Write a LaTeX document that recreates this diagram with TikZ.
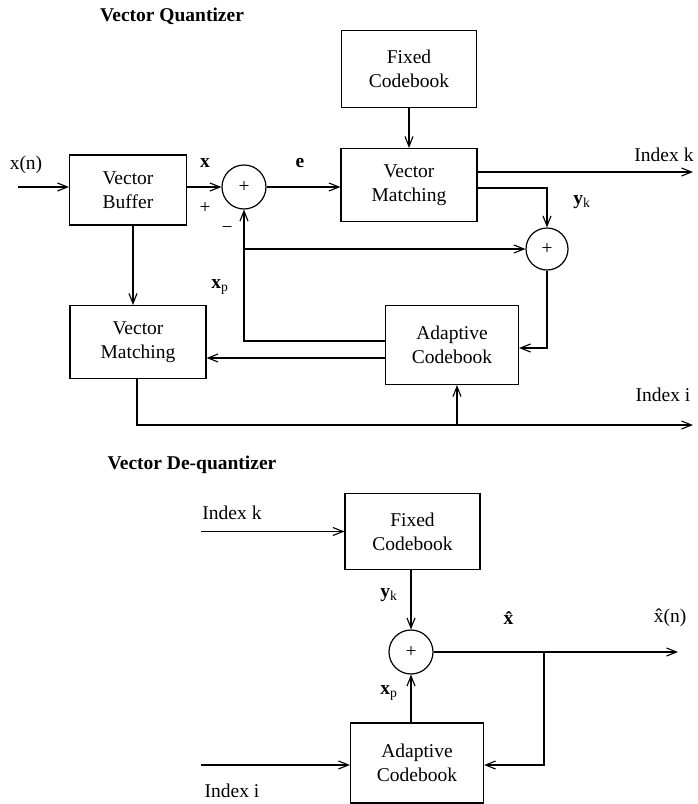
\documentclass[tikz,border=0pt]{standalone}
\usepackage{fontspec}
\setmainfont{Liberation Serif}
\usetikzlibrary{arrows.meta}
\begin{document}
\begin{tikzpicture}[x=1pt,y=-1pt,
  every node/.style={font=\fontsize{19.5}{24}\selectfont},
  box/.style={draw,line width=1.2pt,align=center,inner sep=0pt},
  sumnode/.style={draw,circle,line width=1.2pt,minimum size=44pt,inner sep=0pt},
  lbl/.style={inner sep=0pt},
  arr/.style={line width=1.2pt,-{Straight Barb[length=10pt,width=8pt,line width=1.1pt]}},
  ln/.style={line width=1.2pt}]
\useasboundingbox (0,0) rectangle (698,804);
% ---------- Vector Quantizer ----------
\node[lbl] (t1) at (172,16) {\textbf{Vector Quantizer}};
\node[box,minimum width=135pt,minimum height=77pt] (fcb1) at (409,69) {Fixed\\Codebook};
\node[box,minimum width=136pt,minimum height=73pt] (vm1) at (409,185) {Vector\\Matching};
\node[box,minimum width=117pt,minimum height=70pt] (vb) at (128,190) {Vector\\Buffer};
\node[sumnode] (c1) at (244,187) {+};
\node[sumnode,minimum size=42pt] (c2) at (547,249) {+};
\node[box,minimum width=133pt,minimum height=79pt] (acb1) at (452,345) {Adaptive\\Codebook};
\node[box,minimum width=136pt,minimum height=73pt] (vm2) at (138,342) {Vector\\Matching};

\node[lbl] (lxn) at (26,165) {x(n)};
\node[lbl] (lx) at (205,163) {\textbf{x}};
\node[lbl] (lplus) at (205,208) {+};
\node[lbl] (lminus) at (227,230) {−};
\node[lbl] (le) at (300,163) {\textbf{e}};
\node[lbl] (lik) at (664,155) {Index k};
\node[lbl] (lyk) at (582,202) {\textbf{y}\textsubscript{k}};
\node[lbl] (lxp) at (220,287) {\textbf{x}\textsubscript{p}};
\node[lbl] (lii) at (663,395) {Index i};

\coordinate (xin) at (18,187);
\coordinate (ik) at (693,172);
\coordinate (yk) at (547,188);
\coordinate (fb) at (244,341);
\coordinate (r1) at (547,348);
\coordinate (al) at (385,358);
\coordinate (dv) at (133,0);
\coordinate (iib) at (137,425);
\coordinate (ii) at (693,425);
\coordinate (ia) at (457,425);

\draw[arr] (xin) -- (xin -| vb.west);
\draw[arr] (c1 -| vb.east) -- (c1.west);
\draw[arr] (c1.east) -- (c1 -| vm1.west);
\draw[arr] (fcb1.south) -- (vm1.north);
\draw[arr] (ik -| vm1.east) -- (ik);
\draw[arr] (yk -| vm1.east) -- (yk) -- (c2.north);
\draw[arr] (fb -| acb1.west) -- (fb) -- (c1.south);
\draw[arr] (c1 |- c2) -- (c2.west);
\draw[arr] (c2.south) -- (r1) -- (r1 -| acb1.east);
\draw[arr] (al -| acb1.west) -- (al -| vm2.east);
\draw[arr] (dv |- vb.south) -- (dv |- vm2.north);
\draw[arr] (iib |- vm2.south) -- (iib) -- (ii);
\draw[arr] (ia) -- (ia |- acb1.south);

% ---------- Vector De-quantizer ----------
\node[lbl] (t2) at (192,465) {\textbf{Vector De-quantizer}};
\node[box,minimum width=135pt,minimum height=76pt] (fcb2) at (412.5,531.5) {Fixed\\Codebook};
\node[sumnode] (c3) at (411,652) {+};
\node[box,minimum width=133pt,minimum height=80pt] (acb2) at (417,763) {Adaptive\\Codebook};

\node[lbl] (lik2) at (232,513) {Index k};
\node[lbl] (lyk2) at (389,595) {\textbf{y}\textsubscript{k}};
\node[lbl] (lxh) at (510,618) {\textbf{x̂}};
\node[lbl] (lxhn) at (670,618) {x̂(n)};
\node[lbl] (lxp2) at (389,693) {\textbf{x}\textsubscript{p}};
\node[lbl] (lii2) at (232,791) {Index i};

\coordinate (ik2) at (201,531.5);
\coordinate (out) at (678,652);
\coordinate (j3) at (544,652);
\coordinate (j4) at (544,765);
\coordinate (ii2) at (201,765);

\draw[arr] (ik2) -- (ik2 -| fcb2.west);
\draw[arr] (c3 |- fcb2.south) -- (c3.north);
\draw[arr] (c3.east) -- (out);
\draw[arr] (j3) -- (j4) -- (j4 -| acb2.east);
\draw[arr] (c3 |- acb2.north) -- (c3.south);
\draw[arr] (ii2) -- (ii2 -| acb2.west);
\end{tikzpicture}
\end{document}
